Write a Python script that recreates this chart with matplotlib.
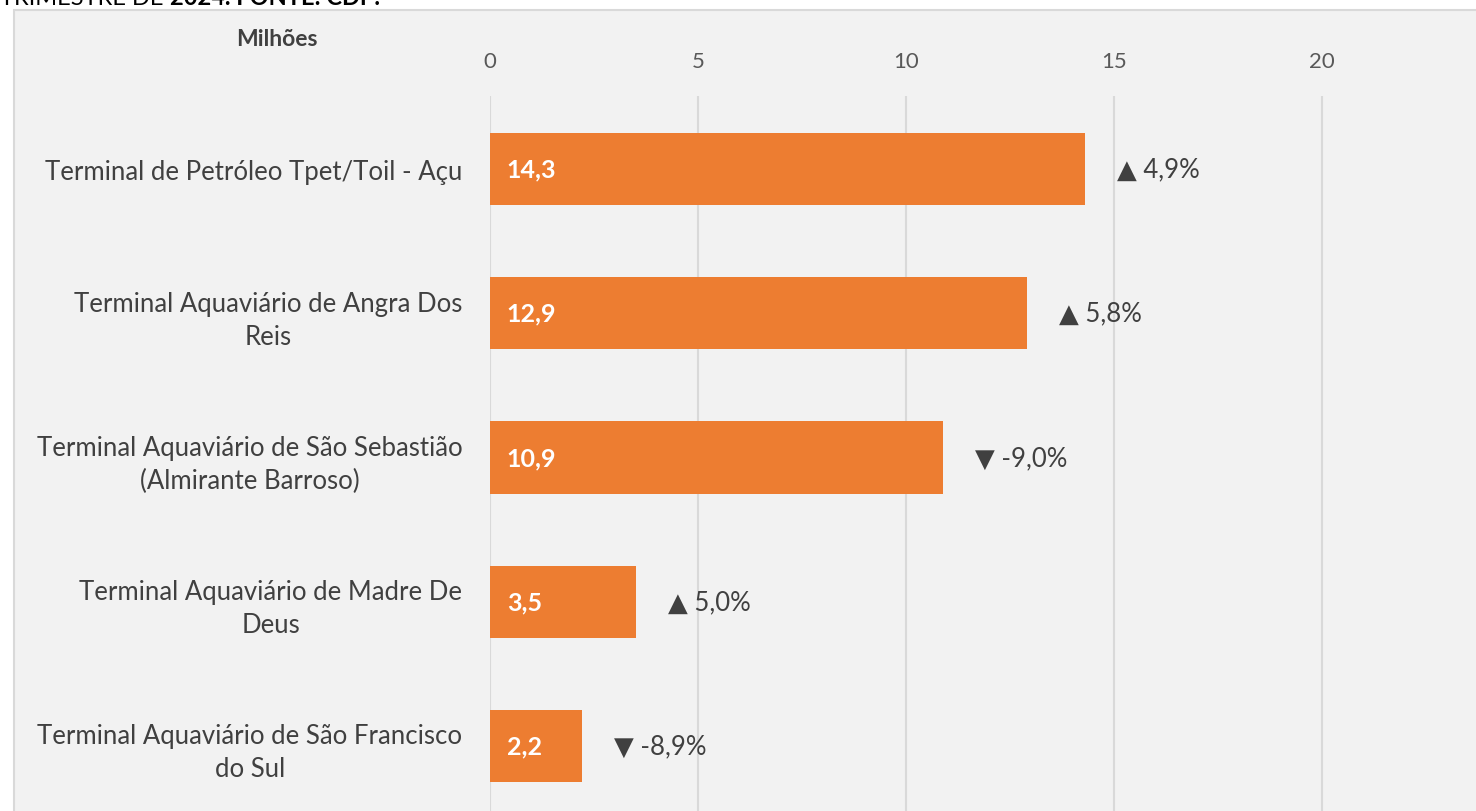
import matplotlib.pyplot as plt
from matplotlib.patches import Rectangle

terminals = [
    "Terminal de Petróleo Tpet/Toil - Açu",
    "Terminal Aquaviário de Angra Dos\nReis",
    "Terminal Aquaviário de São Sebastião\n(Almirante Barroso)",
    "Terminal Aquaviário de Madre De\nDeus",
    "Terminal Aquaviário de São Francisco\ndo Sul",
]
values = [14.3, 12.9, 10.9, 3.5, 2.2]
changes = [4.9, 5.8, -9.0, 5.0, -8.9]
x_ticks = [0, 5, 10, 15, 20]

ORANGE = "#ED7D31"
DARK = "#404040"
GRID = "#d9d9d9"
FONT = ["Lato", "DejaVu Sans"]

W, H = 1476, 812
fig = plt.figure(figsize=(W / 100, H / 100), dpi=100)
fig.patch.set_facecolor("white")

# grey chart panel (cropped on the right and bottom)
fig.patches.append(Rectangle((14 / W, -0.1), 1.2, (H - 11) / H + 0.1,
                             transform=fig.transFigure, facecolor="#f2f2f2",
                             edgecolor=GRID, linewidth=1.5, zorder=-1))

# cut-off caption at the very top
cap = fig.text(0.0, 1 - 5 / H, "TRIMESTRE DE ", fontsize=17, color="black",
               family=FONT, va="baseline", ha="left")
renderer = fig.canvas.get_renderer()
cap_end = cap.get_window_extent(renderer).x1
fig.text(cap_end / W, 1 - 5 / H, "2024. FONTE: CDP.", fontsize=17,
         color="black", family=FONT, va="baseline", ha="left",
         fontweight="bold")

px_per_unit = 41.6
ax = fig.add_axes([490 / W, 0, (W - 490) / W, (H - 97) / H])
ax.set_zorder(2)
ax.set_facecolor("none")
ax.set_xlim(0, (W - 490) / px_per_unit)
ax.set_ylim(4 + 65 / 144, -73 / 144)

pos = list(range(len(terminals)))
ax.barh(pos, values, height=0.5, color=ORANGE, zorder=3)

for x in x_ticks:
    ax.axvline(x, color=GRID, linewidth=1.5, zorder=1)

ax.set_xticks(x_ticks)
ax.xaxis.tick_top()
ax.tick_params(axis="x", length=0, pad=18, labelsize=16, labelcolor="#595959")
for lbl in ax.get_xticklabels():
    lbl.set_family(FONT)

ax.set_yticks(pos)
ax.set_yticklabels(terminals, fontsize=18.5, color=DARK, family=FONT,
                   multialignment="center", linespacing=1.4)
ax.tick_params(axis="y", length=0, pad=20)

for s in ax.spines.values():
    s.set_visible(False)

for i, (v, c) in enumerate(zip(values, changes)):
    ax.text(0.4, i, f"{v:.1f}".replace(".", ","), color="white",
            fontsize=18, fontweight="bold", family=FONT, va="center", ha="left",
            zorder=4)
    arrow = "▲" if c >= 0 else "▼"
    ax.text(v + 0.77, i, f"{arrow} {c:.1f}%".replace(".", ","), color=DARK,
            fontsize=18.5, family=FONT, va="center", ha="left", zorder=4)

fig.text(277 / W, 1 - 39 / H, "Milhões", fontsize=16.5, fontweight="bold",
         color=DARK, family=FONT, ha="center", va="center", zorder=3)

fig.savefig("out.png", dpi=100)
